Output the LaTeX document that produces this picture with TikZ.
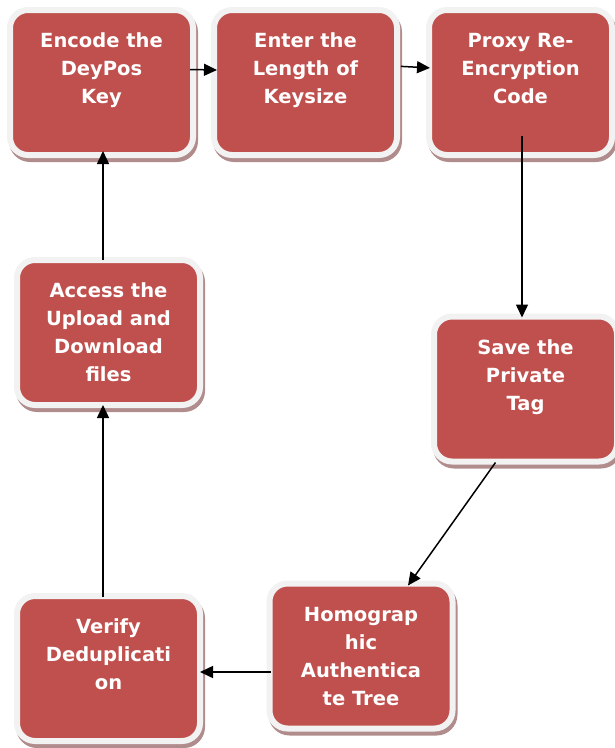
\documentclass[tikz,border=0pt]{standalone}
\usepackage{fontspec}
\setmainfont{DejaVu Sans}
\usepackage{tikz}
\usetikzlibrary{arrows.meta,calc}
\definecolor{boxred}{HTML}{C0504D}
\definecolor{framegrey}{HTML}{F2F2F2}
\definecolor{shadowbrown}{HTML}{B08C8C}
\tikzset{
  stepbox/.style={rectangle, rounded corners=18pt, fill=boxred, draw=framegrey,
              line width=6pt, outer sep=-3pt, inner sep=0pt, align=center,
              text=white, font=\fontsize{19.5}{28}\selectfont\bfseries,
              minimum width=183pt, minimum height=145pt, text depth=0pt,
              preaction={draw=shadowbrown, fill=shadowbrown,
                         transform canvas={shift={(2pt,-4pt)}}}},
  threeline/.style={text depth=28pt},
  ar/.style={-{Triangle[length=13pt,width=12pt]}, line width=1.5pt, draw=black},
}

\begin{document}
\begin{tikzpicture}[x=1pt,y=-1pt]
  \useasboundingbox (0,0) rectangle (615,748);

  \node[stepbox, threeline] (enc) at (101.5,82.5) {Encode the\\DeyPos\\Key};
  \node[stepbox, threeline] (ent) at (305.5,82.5) {Enter the\\Length of\\Keysize};
  \node[stepbox, threeline] (pro) at (520.5,82.5) {Proxy Re-\\Encryption\\Code};
  \node[stepbox, threeline] (sav) at (525.5,389) {Save the\\Private\\Tag};
  \node[stepbox] (hom) at (361,656) {Homograp\\hic\\Authentica\\te Tree};
  \node[stepbox, threeline] (ver) at (108.5,668.5) {Verify\\Deduplicati\\on};
  \node[stepbox] (acc) at (108.5,332.5) {Access the\\Upload and\\Download\\files};

  \draw[ar] ([yshift=13pt]enc.east) -- ([yshift=12.5pt]ent.west);
  \draw[ar, shorten <=7pt, shorten >=2pt] ([yshift=16.5pt]ent.east) -- ([yshift=14.5pt]pro.west);
  \draw[ar] ($(pro.south)+(1.5,-16)$) -- ($(pro.south |- sav.north)+(1.5,-2)$);
  \draw[ar] ($(sav.south)+(-30,4)$) -- ($(hom.north)+(47,-1)$);
  \draw[ar] ($(hom.west |- ver.east)+(-2,3.5)$) -- ($(ver.east)+(3,3.5)$);
  \draw[ar] ($(ver.north)+(-5.5,-2)$) -- ($(ver.north |- acc.south)+(-5.5,3)$);
  \draw[ar] ($(acc.north)+(-5.5,-3)$) -- ($(acc.north |- enc.south)+(-5.5,-1)$);
\end{tikzpicture}
\end{document}
